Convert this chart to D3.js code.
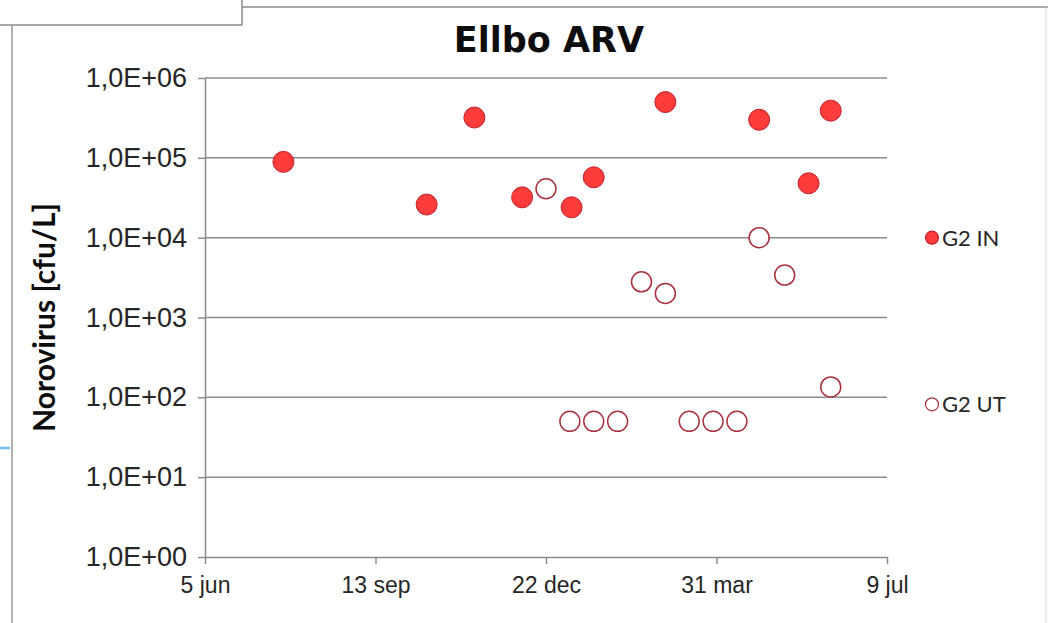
<!DOCTYPE html>
<html>
<head>
<meta charset="utf-8">
<script src="https://cdn.jsdelivr.net/npm/d3@7"></script>
<style>
  body { margin: 0; background: #fff; }
  svg { display: block; font-family: Lato, "Open Sans", sans-serif; }
  .axis path, .axis line { stroke: #8c8c8c; stroke-width: 1.5; }
  .axis text { fill: #262626; }
  .y-axis text { font-size: 27px; }
  .x-axis text { font-size: 23px; }
  .grid line { stroke: #8c8c8c; stroke-width: 1.5; }
</style>
</head>
<body>
<svg id="chart"></svg>
<script>
// G2 IN (filled markers)
const inDates = ['2011-07-21', '2011-10-13', '2011-11-10', '2011-12-08', '2012-01-06',
                 '2012-01-19', '2012-03-01', '2012-04-25', '2012-05-24', '2012-06-06'];
const inValues = [8.9e4, 2.6e4, 3.2e5, 3.2e4, 2.4e4, 5.7e4, 5.0e5, 3.0e5, 4.8e4, 3.9e5];

// G2 UT (open markers)
const utDates = ['2011-12-22', '2012-02-16', '2012-03-01', '2012-04-25', '2012-05-10', '2012-06-06',
                 '2012-01-05', '2012-01-19', '2012-02-02', '2012-03-15', '2012-03-29', '2012-04-12'];
const utValues = [4.1e4, 2.8e3, 2.0e3, 1.0e4, 3.4e3, 135, 50, 50, 50, 50, 50, 50];

const xTicks = ['2011-06-05', '2011-09-13', '2011-12-22', '2012-03-31', '2012-07-09'];
const yTicks = [1, 10, 100, 1e3, 1e4, 1e5, 1e6];
const seriesNames = ['G2 IN', 'G2 UT'];
const monthNames = ['jan', 'feb', 'mar', 'apr', 'maj', 'jun', 'jul', 'aug', 'sep', 'okt', 'nov', 'dec'];

const width = 1048, height = 623;
const plot = {left: 205, right: 887, top: 78, bottom: 557};
const parse = d3.timeParse('%Y-%m-%d');

const svg = d3.select('#chart')
    .attr('width', width)
    .attr('height', height);

// frame bits around the pasted chart
svg.append('rect')
    .attr('x', -2).attr('y', -2).attr('width', 244).attr('height', 27)
    .attr('fill', '#fff').attr('stroke', '#8c8c8c').attr('stroke-width', 1.5);
svg.append('line')
    .attr('x1', 242).attr('x2', width).attr('y1', 7).attr('y2', 7)
    .attr('stroke', '#8c8c8c').attr('stroke-width', 1.5);
svg.append('line')
    .attr('x1', 12).attr('x2', 12).attr('y1', 25).attr('y2', height)
    .attr('stroke', '#9a9a9a').attr('stroke-width', 1.5);
svg.append('line')
    .attr('x1', 1046).attr('x2', 1046).attr('y1', 7).attr('y2', height)
    .attr('stroke', '#d9d9d9').attr('stroke-width', 1);
svg.append('line')
    .attr('x1', 0).attr('x2', 10).attr('y1', 448).attr('y2', 448)
    .attr('stroke', '#6cc0ea').attr('stroke-width', 2.5);

// scales
const x = d3.scaleTime()
    .domain([parse(xTicks[0]), parse(xTicks[xTicks.length - 1])])
    .range([plot.left, plot.right]);

const y = d3.scaleLog()
    .domain([1, 1e6])
    .range([plot.bottom, plot.top]);

// horizontal gridlines
svg.append('g')
    .attr('class', 'grid')
    .selectAll('line')
    .data(yTicks.slice(1))
    .join('line')
        .attr('x1', plot.left)
        .attr('x2', plot.right)
        .attr('y1', d => y(d))
        .attr('y2', d => y(d));

// axes
const fmtDate = d => `${d.getDate()} ${monthNames[d.getMonth()]}`;
const fmtExp = d => '1,0E+' + String(Math.round(Math.log10(d))).padStart(2, '0');

const xAxis = d3.axisBottom(x)
    .tickValues(xTicks.map(parse))
    .tickFormat(fmtDate)
    .tickSizeInner(7)
    .tickSizeOuter(0)
    .tickPadding(13);

const yAxis = d3.axisLeft(y)
    .tickValues(yTicks)
    .tickFormat(fmtExp)
    .tickSizeInner(7)
    .tickSizeOuter(0)
    .tickPadding(11);

svg.append('g')
    .attr('class', 'axis x-axis')
    .attr('transform', `translate(0,${plot.bottom})`)
    .call(xAxis);

svg.append('g')
    .attr('class', 'axis y-axis')
    .attr('transform', `translate(${plot.left},0)`)
    .call(yAxis);

// titles
svg.append('text')
    .attr('x', 549)
    .attr('y', 52)
    .attr('text-anchor', 'middle')
    .attr('font-family', '"DejaVu Sans", sans-serif')
    .attr('font-weight', 'bold')
    .attr('font-size', 35)
    .attr('fill', '#0d0d0d')
    .text('Ellbo ARV');

svg.append('text')
    .attr('transform', `translate(55,${(plot.top + plot.bottom) / 2}) rotate(-90)`)
    .attr('text-anchor', 'middle')
    .attr('font-weight', 'bold')
    .attr('font-size', 30)
    .attr('fill', '#0d0d0d')
    .text('Norovirus [cfu/L]');

// markers
const inData = inDates.map((d, i) => ({date: parse(d), value: inValues[i]}));
const utData = utDates.map((d, i) => ({date: parse(d), value: utValues[i]}));

svg.append('g')
    .selectAll('circle')
    .data(utData)
    .join('circle')
        .attr('cx', d => x(d.date))
        .attr('cy', d => y(d.value))
        .attr('r', 10)
        .attr('fill', '#fff')
        .attr('stroke', '#a8323f')
        .attr('stroke-width', 1.5);

svg.append('g')
    .selectAll('circle')
    .data(inData)
    .join('circle')
        .attr('cx', d => x(d.date))
        .attr('cy', d => y(d.value))
        .attr('r', 10.5)
        .attr('fill', '#ff3c3c')
        .attr('stroke', '#c0202a')
        .attr('stroke-width', 1);

// legend, placed next to the 1e4 and 1e2 gridlines like the original
const legend = svg.append('g')
    .selectAll('g')
    .data(seriesNames)
    .join('g')
        .attr('transform', (d, i) => `translate(932,${i === 0 ? y(1e4) : y(1e2) + 7})`);

legend.append('circle')
    .attr('r', 6.5)
    .attr('fill', (d, i) => i === 0 ? '#ff3c3c' : '#fff')
    .attr('stroke', (d, i) => i === 0 ? '#c0202a' : '#a8323f')
    .attr('stroke-width', 1.2);

legend.append('text')
    .attr('x', 10)
    .attr('dy', '0.36em')
    .attr('font-size', 22)
    .attr('fill', '#262626')
    .text(d => d);
</script>
</body>
</html>
